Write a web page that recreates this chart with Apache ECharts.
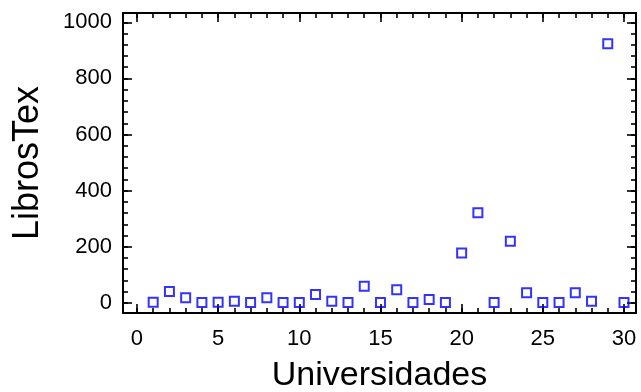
<!DOCTYPE html>
<html>
<head>
<meta charset="utf-8">
<script src="https://cdn.jsdelivr.net/npm/echarts@6/dist/echarts.min.js"></script>
<style>
  html, body { margin: 0; padding: 0; background: #fff; }
  #chart { width: 641px; height: 392px; }
</style>
</head>
<body>
<div id="chart"></div>
<script>
// Universidades (1..30) vs LibrosTex
const universidades = [1,2,3,4,5,6,7,8,9,10,11,12,13,14,15,16,17,18,19,20,21,22,23,24,25,26,27,28,29,30];
const librosTex = [2,41,18,1,2,6,1,18,1,1,30,6,1,59,1,47,1,12,1,178,321,1,220,36,1,1,36,6,923,1];

const xTicks = [0,5,10,15,20,25,30];
const xMinorTicks = [0,1,2,3,4,5,6,7,8,9,10,11,12,13,14,15,16,17,18,19,20,21,22,23,24,25,26,27,28,29,30];
const yTicks = [0,200,400,600,800,1000];
const yMinorTicks = [0,40,80,120,160,200,240,280,320,360,400,440,480,520,560,600,640,680,720,760,800,840,880,920,960,1000];

const X_MIN = -0.86, X_MAX = 30.74;
const Y_MIN = -36, Y_MAX = 1033;
const FONT = 'Liberation Sans, Arial, sans-serif';
const ink = '#000';
const plain = v => String(v);

function xAxisDef(pos, ticks, len, showLine, showLabels, extra) {
  return Object.assign({
    type: 'value', position: pos, min: X_MIN, max: X_MAX, gridIndex: 0,
    splitLine: { show: false },
    axisLine: { show: showLine, onZero: false, lineStyle: { color: ink, width: 2 } },
    axisTick: { show: true, inside: true, length: len, customValues: ticks, lineStyle: { color: ink, width: 1.6 } },
    axisLabel: { show: showLabels, customValues: ticks, formatter: plain, color: ink, fontFamily: FONT, fontSize: 22, margin: 15 }
  }, extra || {});
}
function yAxisDef(pos, ticks, len, showLine, showLabels, extra) {
  return Object.assign({
    type: 'value', position: pos, min: Y_MIN, max: Y_MAX, gridIndex: 0,
    splitLine: { show: false },
    axisLine: { show: showLine, onZero: false, lineStyle: { color: ink, width: 2 } },
    axisTick: { show: true, inside: true, length: len, customValues: ticks, lineStyle: { color: ink, width: 1.6 } },
    axisLabel: { show: showLabels, customValues: ticks, formatter: plain, color: ink, fontFamily: FONT, fontSize: 22, margin: 11 }
  }, extra || {});
}

const chart = echarts.init(document.getElementById('chart'), null, { renderer: 'canvas' });
chart.setOption({
  animation: false,
  backgroundColor: '#fff',
  grid: { left: 123, right: 5, top: 13, bottom: 79, containLabel: false, outerBoundsMode: 'none' },
  xAxis: [
    xAxisDef('bottom', xTicks, 9, true, true, {
      name: 'Universidades', nameLocation: 'middle', nameGap: 46,
      nameTextStyle: { color: ink, fontFamily: FONT, fontSize: 34 }
    }),
    xAxisDef('bottom', xMinorTicks, 5, false, false),
    xAxisDef('top', xTicks, 9, true, false),
    xAxisDef('top', xMinorTicks, 5, false, false)
  ],
  yAxis: [
    yAxisDef('left', yTicks, 9, true, true, {
      name: 'LibrosTex', nameLocation: 'middle', nameGap: 77, nameRotate: 90,
      nameTextStyle: { color: ink, fontFamily: FONT, fontSize: 36 }
    }),
    yAxisDef('left', yMinorTicks, 5, false, false),
    yAxisDef('right', yTicks, 9, true, false),
    yAxisDef('right', yMinorTicks, 5, false, false)
  ],
  series: [{
    type: 'scatter',
    xAxisIndex: 0, yAxisIndex: 0,
    data: universidades.map((u, i) => [u, librosTex[i]]),
    symbol: 'rect', symbolSize: 9,
    itemStyle: { color: 'rgba(0,0,0,0)', borderColor: '#0000ff', borderWidth: 2 }
  }]
});
</script>
</body>
</html>
